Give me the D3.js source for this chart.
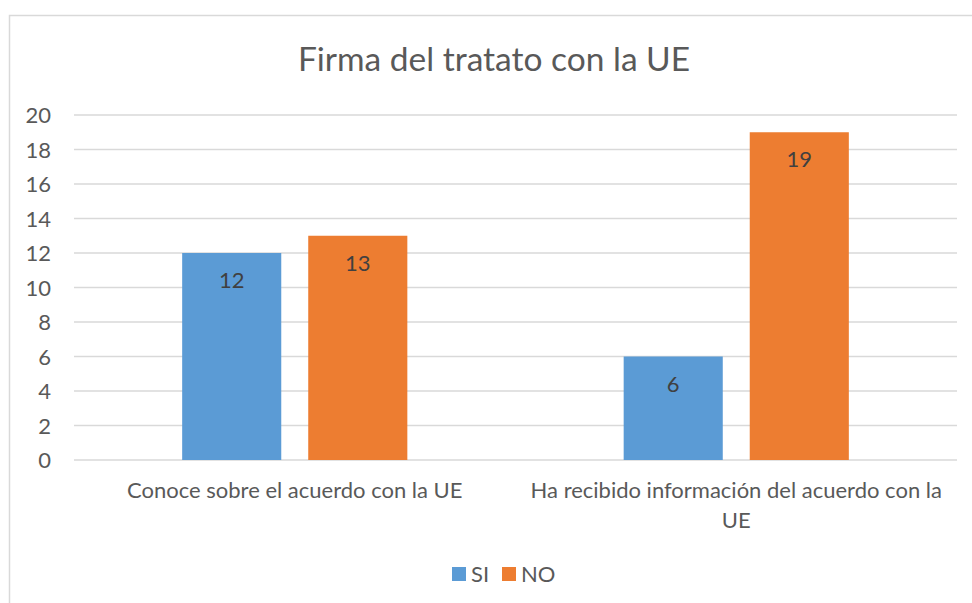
<!DOCTYPE html>
<html>
<head>
<meta charset="utf-8">
<script src="https://cdn.jsdelivr.net/npm/d3@7"></script>
<style>
  body { margin: 0; background: #fff; }
  text { font-family: Lato, "Open Sans", sans-serif; }
</style>
</head>
<body>
<script>
//chart data
var categories = ["Conoce sobre el acuerdo con la UE", "Ha recibido información del acuerdo con la UE"];
var seriesNames = ["SI", "NO"];
var siValues = [12, 6];
var noValues = [13, 19];
var yTicks = [0, 2, 4, 6, 8, 10, 12, 14, 16, 18, 20];
var colors = ["#5B9BD5", "#ED7D31"];

window.onload = function () {
    var w = 972, h = 603;
    var plot = { left: 74, right: 957, top: 115, bottom: 460 };

    var svg = d3.select("body").append("svg")
        .attr("width", w)
        .attr("height", h);

    //chart border
    svg.append("rect")
        .attr("x", 9.5).attr("y", 15.5)
        .attr("width", 1000).attr("height", 700)
        .style("fill", "#fff")
        .style("stroke", "#d9d9d9")
        .style("stroke-width", 1.5);

    //title
    svg.append("text")
        .attr("x", 494)
        .attr("y", 71)
        .attr("text-anchor", "middle")
        .style("font-size", "33.5px")
        .style("fill", "#595959")
        .text("Firma del tratato con la UE");

    var y = d3.scaleLinear()
        .domain([0, 20])
        .range([plot.bottom, plot.top]);

    var x0 = d3.scaleBand()
        .domain(categories)
        .range([plot.left, plot.right])
        .paddingInner(0.49)
        .paddingOuter(0.245);

    var x1 = d3.scaleBand()
        .domain(seriesNames)
        .range([0, x0.bandwidth()])
        .paddingInner(0.214);

    //gridlines
    svg.selectAll(".grid")
        .data(yTicks)
        .enter()
        .append("line")
        .attr("class", "grid")
        .attr("x1", plot.left).attr("x2", plot.right)
        .attr("y1", function (d) { return y(d); })
        .attr("y2", function (d) { return y(d); })
        .style("stroke", "#d9d9d9")
        .style("stroke-width", 1.5);

    //y axis labels
    var yAxis = d3.axisLeft(y).tickValues(yTicks).tickSize(0).tickPadding(0);
    var gy = svg.append("g")
        .attr("transform", "translate(51,0)")
        .call(yAxis);
    gy.select(".domain").remove();
    gy.selectAll("text")
        .attr("dy", "0.36em")
        .style("font-family", "Lato, sans-serif")
        .style("font-size", "22px")
        .style("fill", "#595959");

    //bars
    var rows = categories.map(function (c, i) {
        return [
            { cat: c, series: "SI", value: siValues[i], color: colors[0] },
            { cat: c, series: "NO", value: noValues[i], color: colors[1] }
        ];
    });
    var flat = d3.merge(rows);

    svg.selectAll(".bar")
        .data(flat)
        .enter()
        .append("rect")
        .attr("class", "bar")
        .attr("x", function (d) { return x0(d.cat) + x1(d.series); })
        .attr("y", function (d) { return y(d.value); })
        .attr("width", x1.bandwidth())
        .attr("height", function (d) { return y(0) - y(d.value); })
        .style("fill", function (d) { return d.color; });

    //value labels
    svg.selectAll(".val")
        .data(flat)
        .enter()
        .append("text")
        .attr("class", "val")
        .attr("text-anchor", "middle")
        .attr("x", function (d) { return x0(d.cat) + x1(d.series) + x1.bandwidth() / 2; })
        .attr("y", function (d) { return y(d.value) + 35; })
        .style("font-size", "22px")
        .style("fill", "#404040")
        .text(function (d) { return d.value; });

    //category labels, wrapped
    var xAxis = d3.axisBottom(x0).tickSize(0).tickPadding(0);
    var gx = svg.append("g")
        .attr("transform", "translate(0," + plot.bottom + ")")
        .call(xAxis);
    gx.select(".domain").remove();
    gx.selectAll("text")
        .attr("y", 38)
        .attr("dy", 0)
        .style("font-family", "Lato, sans-serif")
        .style("font-size", "22px")
        .style("fill", "#595959")
        .call(wrap, 428);

    //legend
    var legend = svg.selectAll(".legend")
        .data(seriesNames)
        .enter()
        .append("g")
        .attr("class", "legend")
        .attr("transform", function (d, i) { return "translate(" + (452 + i * 50) + ",567)"; });
    legend.append("rect")
        .attr("width", 14).attr("height", 14)
        .style("fill", function (d, i) { return colors[i]; });
    legend.append("text")
        .attr("x", 19).attr("y", 14.5)
        .style("font-size", "22px")
        .style("fill", "#595959")
        .text(function (d) { return d; });

    function wrap(texts, width) {
        texts.each(function () {
            var text = d3.select(this),
                words = text.text().split(/\s+/),
                line = [],
                lineNo = 0,
                ty = text.attr("y"),
                tspan = text.text(null).append("tspan").attr("x", 0).attr("y", ty);
            words.forEach(function (word) {
                line.push(word);
                tspan.text(line.join(" "));
                if (tspan.node().getComputedTextLength() > width && line.length > 1) {
                    line.pop();
                    tspan.text(line.join(" "));
                    line = [word];
                    lineNo++;
                    tspan = text.append("tspan").attr("x", 0).attr("y", ty)
                        .attr("dy", lineNo * 30).text(word);
                }
            });
        });
    }
};
</script>
</body>
</html>
